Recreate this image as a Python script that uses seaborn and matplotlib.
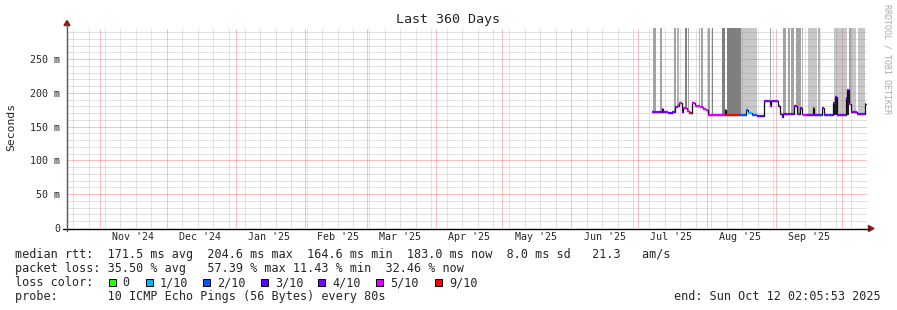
import numpy as np
import pandas as pd
import matplotlib
matplotlib.use("Agg")
import matplotlib.pyplot as plt
import matplotlib.dates as mdates
from matplotlib.patches import Polygon, Rectangle
from matplotlib.lines import Line2D
import seaborn as sns

# ---------------- data ----------------
START = pd.Timestamp("2024-10-17 02:05:53")
END = pd.Timestamp("2025-10-12 02:05:53")
ORIGIN = pd.Timestamp("2025-07-01 00:00:00")   # day offsets below count from here

# median rtt (ms) as a step series, with loss bucket index per step
med_day = [6.5, 10.7, 11.4, 13.7, 15.2, 16.7, 17.4, 18.6, 19.7, 20.1, 20.7, 21.9, 23.1, 24.2,
           25.7, 27.9, 29.4, 30.6, 31.4, 39.2, 39.6, 45.9, 48.6, 49.7, 51.2, 53.4, 56.9, 59.4,
           59.9, 63.2, 63.9, 64.7, 65.4, 70.4, 71.4, 72.9, 73.7, 74.4, 75.9, 78.6, 79.2, 81.9,
           82.8, 83.7, 84.9, 86.1, 87.9, 88.6, 89.4, 93.6, 94.3, 95.1, 95.7, 98.4, 101.7, 102.2]
med_ms = [171.6, 176.5, 172.0, 170.5, 172.0, 178.5, 181.0, 185.0, 171.0, 178.0, 177.0, 172.5,
          169.6, 185.0, 181.0, 179.0, 176.0, 174.0, 167.6, 174.0, 167.6, 167.6, 174.0, 170.0,
          166.7, 166.3, 188.0, 181.0, 188.5, 181.0, 168.0, 164.6, 168.0, 180.0, 169.0, 177.0,
          169.0, 167.6, 167.6, 178.0, 167.6, 167.6, 177.0, 167.6, 167.6, 167.6, 185.0, 194.0,
          167.6, 192.0, 204.6, 183.0, 171.0, 169.0, 169.0, 183.0]
med_loss = [4, 4, 4, 3, 4, 4, 5, 5, 4, 5, 5, 5, 6, 5, 5, 5, 5, 5, 5, 4, 6, 2, 2, 1, 2, 3, 4, 5,
            4, 4, 4, 4, 4, 4, 4, 4, 4, 5, 4, 4, 4, 2, 4, 4, 2, 4, 4, 4, 4, 4, 4, 5, 4, 4, 4, 4]
med_end_day = 102.64

# smoke (rtt spread) bands, from median up to the top of the graph
smoke_start = [7.01, 9.94, 16.24, 17.45, 21.05, 22.40, 27.49, 28.52, 31.54, 33.20, 37.84, 39.95,
               46.39, 59.44, 65.15, 67.40, 68.75, 71.14, 73.70, 76.40, 81.04, 88.37, 94.99, 96.11, 99.26]
smoke_end = [8.05, 10.97, 17.14, 18.35, 21.95, 22.99, 28.07, 29.15, 32.57, 33.92, 39.32, 46.39,
             53.81, 59.89, 66.86, 68.44, 70.24, 73.39, 74.42, 80.59, 82.07, 93.95, 96.11, 98.14, 102.19]
smoke_shade = ["mid", "mid", "mid", "pale", "dark", "mid", "pale", "mid", "mid", "dark", "dark", "dark",
               "light", "mid", "mid", "mid", "mid", "mid", "pale", "light", "pale", "light", "mid",
               "light", "light"]
shade_colors = {"dark": ("#7f7f7f", 1.0), "mid": ("#a2a2a2", 1.0),
                "pale": ("#b2b2b2", 1.0), "light": ("#919191", 0.5)}

# dense dark smoke under two spikes
dark_start = [87.9, 93.6]
dark_end = [89.4, 95.1]
dark_base_ms = [167.6, 167.6]

loss_labels = ["0", "1/10", "2/10", "3/10", "4/10", "5/10", "9/10"]
loss_colors = ["#26ff00", "#00b8ff", "#0059ff", "#5e00ff", "#7e00ff", "#dd00ff", "#ff0000"]

y_ticks_ms = [0, 50, 100, 150, 200, 250]
y_tick_labels = ["0", "50 m", "100 m", "150 m", "200 m", "250 m"]
y_top_ms = 296
month_label_dates = ["2024-11-16", "2024-12-16", "2025-01-16", "2025-02-16", "2025-03-16",
                     "2025-04-16", "2025-05-16", "2025-06-16", "2025-07-16", "2025-08-16",
                     "2025-09-16"]

title = "Last 360 Days"
legend_rtt = "median rtt:  171.5 ms avg  204.6 ms max  164.6 ms min  183.0 ms now  8.0 ms sd   21.3   am/s"
legend_loss = "packet loss: 35.50 % avg   57.39 % max 11.43 % min  32.46 % now"
legend_probe = "probe:       10 ICMP Echo Pings (56 Bytes) every 80s"

# ---------------- drawing ----------------
W, H = 897, 310
sns.set_style("white")
plt.rcParams["font.family"] = ["DejaVu Sans Mono"]
MONO = "DejaVu Sans Mono"

fig = plt.figure(figsize=(W / 100, H / 100), dpi=100)
fig.patch.set_facecolor("white")
ax = fig.add_axes([67 / W, (H - 228) / H, 800 / W, 200 / H])
ax.set_facecolor("white")


def px(x, y):
    return (x / W, 1 - y / H)


def to_dt(days):
    return ORIGIN + pd.to_timedelta(np.asarray(days, dtype=float), unit="D")


ax.set_xlim(START, END)
ax.set_ylim(0, y_top_ms / 1000)
top = y_top_ms / 1000

# grid (dotted lines)
minor_c = "#c4c4c4"
major_c = "#ff7d7d"
dot = (0, (1, 1))
gkw = dict(lw=0.72, ls=dot)
for v in range(10, y_top_ms, 10):
    if v % 50:
        ax.axhline(v / 1000, color=minor_c, zorder=0.3, **gkw)
for v in y_ticks_ms[1:]:
    ax.axhline(v / 1000, color=major_c, zorder=0.4, **gkw)
months = pd.date_range("2024-11-01", END, freq="MS")
for d in pd.date_range("2024-10-20", END, freq="7D"):
    if d not in months:
        ax.axvline(d, color=minor_c, zorder=0.3, **gkw)
for d in months:
    ax.axvline(d, color=major_c, zorder=0.4, **gkw)

md = np.array(med_day)
mv = np.array(med_ms) / 1000


def median_at(days):
    idx = np.clip(np.searchsorted(md, days, side="right") - 1, 0, len(md) - 1)
    return mv[idx]


# smoke bands
for s, e, sh in zip(smoke_start, smoke_end, smoke_shade):
    xs = np.array([s] + [d for d in med_day if s < d < e] + [e])
    col, a = shade_colors[sh]
    ax.fill_between(to_dt(xs), median_at(xs), top, step="post", color=col, alpha=a,
                    lw=0, zorder=1)

# dark smoke
for s, e, b in zip(dark_start, dark_end, dark_base_ms):
    xs = np.array([s] + [d for d in med_day if s < d < e] + [e])
    ax.fill_between(to_dt(xs), b / 1000, median_at(xs), step="post", color="#1e1e1e",
                    lw=0, zorder=1.5)

# median: black step line for transitions, coloured horizontal segments by loss
step_df = pd.DataFrame({"t": to_dt(med_day + [med_end_day]),
                        "rtt": list(mv) + [mv[-1]]})
sns.lineplot(data=step_df, x="t", y="rtt", drawstyle="steps-post", color="#111111",
             lw=0.9, estimator=None, ax=ax, zorder=2)
ends = med_day[1:] + [med_end_day]
ax.hlines(mv, to_dt(med_day), to_dt(ends), colors=[loss_colors[i] for i in med_loss],
          lw=1.6, zorder=3, capstyle="butt")

# axes styling
for sp in ax.spines.values():
    sp.set_visible(False)
ax.set_xlabel("")
ax.set_ylabel("")
ax.set_yticks([v / 1000 for v in y_ticks_ms])
ax.set_yticklabels(y_tick_labels, fontsize=7.2, family=MONO)
ax.set_xticks(pd.to_datetime(month_label_dates))
ax.set_xticklabels([pd.Timestamp(d).strftime("%b '%y") for d in month_label_dates],
                   fontsize=7.2, family=MONO)
ax.tick_params(axis="both", length=0)
ax.tick_params(axis="y", pad=5)
ax.tick_params(axis="x", pad=3)
ax.grid(False)

# axis lines with arrows
fig.add_artist(Line2D([px(63, 0)[0], px(869, 0)[0]], [px(0, 228.5)[1]] * 2,
                      color="black", lw=1.0, transform=fig.transFigure))
fig.add_artist(Line2D([px(67, 0)[0]] * 2, [px(0, 231)[1], px(0, 24)[1]],
                      color="#555555", lw=1.0, transform=fig.transFigure))
arrow_c = "#8b1a1a"
fig.add_artist(Polygon([px(64, 25.5), px(70, 25.5), px(67, 20.5)], closed=True,
                       color=arrow_c, transform=fig.transFigure))
fig.add_artist(Polygon([px(868.5, 225.5), px(868.5, 231.5), px(874, 228.5)], closed=True,
                       color=arrow_c, transform=fig.transFigure))

# texts
fig.text(*px(448, 19), title, ha="center", va="center", fontsize=9.6, family=MONO)
fig.text(*px(11, 127), "Seconds", ha="center", va="center", rotation=90, fontsize=8.2,
         family=MONO)
fig.text(*px(887, 4), "RRDTOOL / TOBI OETIKER", ha="center", va="top", rotation=270,
         fontsize=6, family=MONO, color="#aaaaaa")

LF = 8.5
fig.text(*px(15, 254.5), legend_rtt, ha="left", va="center", fontsize=LF, family=MONO)
fig.text(*px(15, 268.5), legend_loss, ha="left", va="center", fontsize=LF, family=MONO)
fig.text(*px(15, 282.5), "loss color:", ha="left", va="center", fontsize=LF, family=MONO)
box_x = [108.7, 146.0, 203.3, 261.0, 318.3, 375.7, 435.0]
for bx, lab, col in zip(box_x, loss_labels, loss_colors):
    fig.add_artist(Rectangle(px(bx, 286), 7 / W, 7 / H, facecolor=col, edgecolor="black",
                             lw=0.7, transform=fig.transFigure))
    fig.text(*px(bx + 14, 282.5), lab, ha="left", va="center", fontsize=LF, family=MONO)
fig.text(*px(15, 296.5), legend_probe, ha="left", va="center", fontsize=LF, family=MONO)
fig.text(*px(881, 296.5), "end: " + END.strftime("%a %b %d %H:%M:%S %Y"), ha="right",
         va="center", fontsize=LF, family=MONO)

fig.savefig("out.png", dpi=100, facecolor="white")
